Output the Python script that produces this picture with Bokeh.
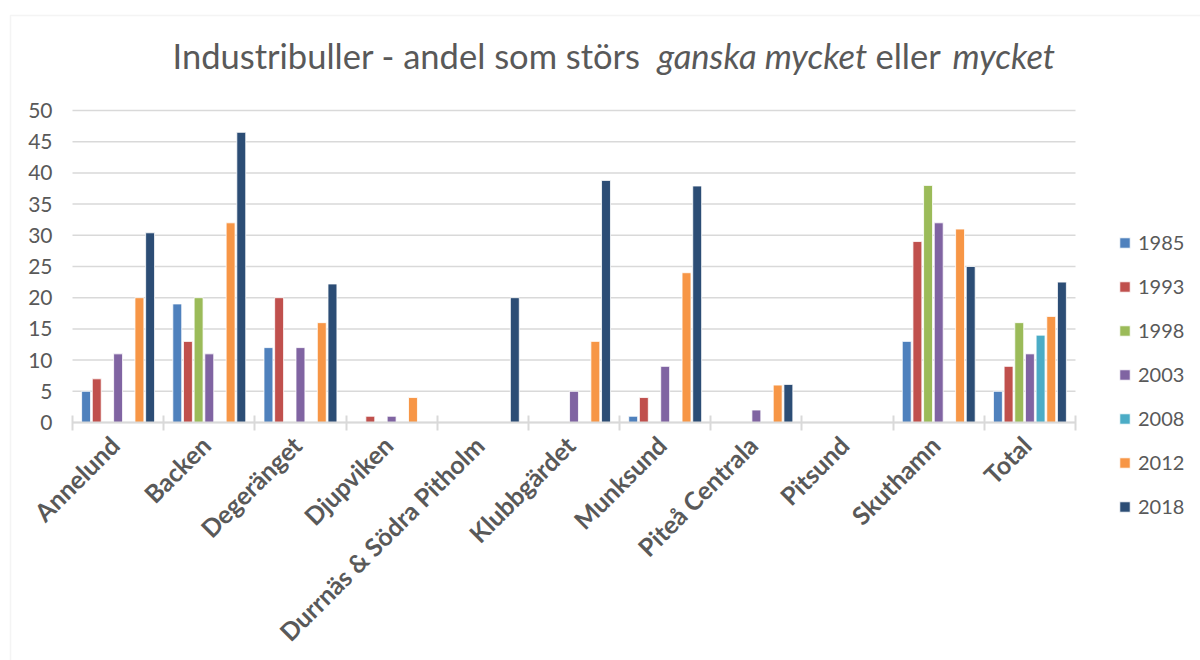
import math
from bokeh.plotting import figure
from bokeh.models import (ColumnDataSource, FixedTicker, Legend, LegendItem,
                          Label, BoxAnnotation, LinearAxis)
from bokeh.embed import file_html
from bokeh.resources import INLINE

nan = float("nan")

categories = ["Annelund", "Backen", "Degeränget", "Djupviken",
              "Durrnäs & Södra Pitholm", "Klubbgärdet", "Munksund",
              "Piteå Centrala", "Pitsund", "Skuthamn", "Total"]
years = ["1985", "1993", "1998", "2003", "2008", "2012", "2018"]

v1985 = [5, 19, 12, nan, nan, nan, 1, nan, nan, 13, 5]
v1993 = [7, 13, 20, 1, nan, nan, 4, nan, nan, 29, 9]
v1998 = [nan, 20, nan, nan, nan, nan, nan, nan, nan, 38, 16]
v2003 = [11, 11, 12, 1, nan, 5, 9, 2, nan, 32, 11]
v2008 = [nan, nan, nan, nan, nan, nan, nan, nan, nan, nan, 14]
v2012 = [20, 32, 16, 4, nan, 13, 24, 6, nan, 31, 17]
v2018 = [30.4, 46.5, 22.2, nan, 20, 38.8, 37.9, 6.1, nan, 25, 22.5]
series = [v1985, v1993, v1998, v2003, v2008, v2012, v2018]

colors = ["#4F81BD", "#C0504D", "#9BBB59", "#8064A2", "#4BACC6", "#F79646", "#2C4D75"]

yticks = list(range(0, 51, 5))
ymax = 50

TXT = "#595959"
GRID = "#d9d9d9"

# ---- layout (pixels) ----
W, H = 1200, 660
PLOT_L, PLOT_R, PLOT_T, PLOT_B = 72, 1075, 110, 422
n = len(categories)
px_x = (PLOT_R - PLOT_L) / n          # pixels per category
px_y = (PLOT_B - PLOT_T) / ymax       # pixels per unit
x0 = -0.5 - PLOT_L / px_x
x1 = x0 + W / px_x
y1 = PLOT_B / px_y
y0 = y1 - H / px_y

def X(px):
    return x0 + px / px_x

def Y(py):
    return y1 - py / px_y

p = figure(width=W, height=H, output_backend="svg", toolbar_location=None,
           x_range=(x0, x1), y_range=(y0, y1),
           min_border=0, x_axis_location=None, y_axis_location=None)
p.outline_line_color = None
p.background_fill_color = "white"
p.border_fill_color = "white"
p.xgrid.visible = False
p.ygrid.visible = False

# gridlines
p.segment(x0=[-0.5] * len(yticks), x1=[n - 0.5] * len(yticks), y0=yticks, y1=yticks,
          line_color=GRID, line_width=1.5)

step = 0.117
bw = 0.098
renderers = []
for j, (yr, vals, col) in enumerate(zip(years, series, colors)):
    xs = [i + (j - 3) * step for i in range(n)]
    src = ColumnDataSource(dict(x=xs, top=vals))
    r = p.vbar(x="x", top="top", bottom=0, width=bw, source=src,
               fill_color=col, line_color="white", line_width=0.8)
    renderers.append((yr, r))

# y axis (drawn inside the frame at x=-0.5)
yax = LinearAxis(fixed_location=-0.5, bounds=(0, ymax),
                 ticker=FixedTicker(ticks=yticks))
yax.axis_line_color = None
yax.major_tick_line_color = None
yax.minor_tick_line_color = None
yax.major_tick_in = 0
yax.major_tick_out = 0
yax.major_label_text_font = "Lato"
yax.major_label_text_font_size = "21px"
yax.major_label_text_color = TXT
yax.major_label_standoff = 20
p.add_layout(yax, "left")

# x axis (drawn inside the frame at y=0)
shift = -0.04
label_ticks = [i + shift for i in range(n)]
xax = LinearAxis(fixed_location=0, bounds=(-0.5, n - 0.5),
                 ticker=FixedTicker(ticks=label_ticks,
                                    minor_ticks=[k - 0.5 for k in range(n + 1)]))
xax.major_label_overrides = {t: c for t, c in zip(label_ticks, categories)}
xax.major_label_orientation = math.pi / 4
xax.major_tick_line_color = None
xax.major_tick_in = 0
xax.major_tick_out = 0
xax.minor_tick_line_color = GRID
xax.minor_tick_line_width = 2
xax.minor_tick_in = 7
xax.minor_tick_out = 8
xax.axis_line_color = GRID
xax.axis_line_width = 2
xax.major_label_text_font = "Lato"
xax.major_label_text_font_style = "bold"
xax.major_label_text_font_size = "25px"
xax.major_label_text_color = TXT
xax.major_label_standoff = 10
p.add_layout(xax, "below")

legend = Legend(items=[LegendItem(label=yr, renderers=[r]) for yr, r in renderers],
                location=(1118, H - 518), orientation="vertical",
                glyph_width=13, glyph_height=13, label_height=22, spacing=20,
                padding=0, margin=0, border_line_color=None,
                background_fill_alpha=0, label_text_font="Lato",
                label_text_font_size="20px", label_text_color=TXT,
                label_standoff=7)
p.add_layout(legend, "center")

# chart border
p.add_layout(BoxAnnotation(left=X(10), right=X(W + 30), top=Y(15), bottom=Y(H + 30),
                           fill_alpha=0, line_color=GRID, line_width=1.5))

# title (mixed normal / italic)
title_parts = [("Industribuller - andel som störs", "normal", 172),
               ("ganska mycket", "italic", 657),
               ("eller", "normal", 875),
               ("mycket", "italic", 952)]
for txt, style, xpos in title_parts:
    p.add_layout(Label(x=X(xpos), y=Y(55), text=txt, text_font="Lato",
                       text_font_size="34.5px", text_font_style=style,
                       text_color=TXT, text_baseline="alphabetic",
                       text_align="left"))

open("out.html", "w").write(file_html(p, INLINE))
